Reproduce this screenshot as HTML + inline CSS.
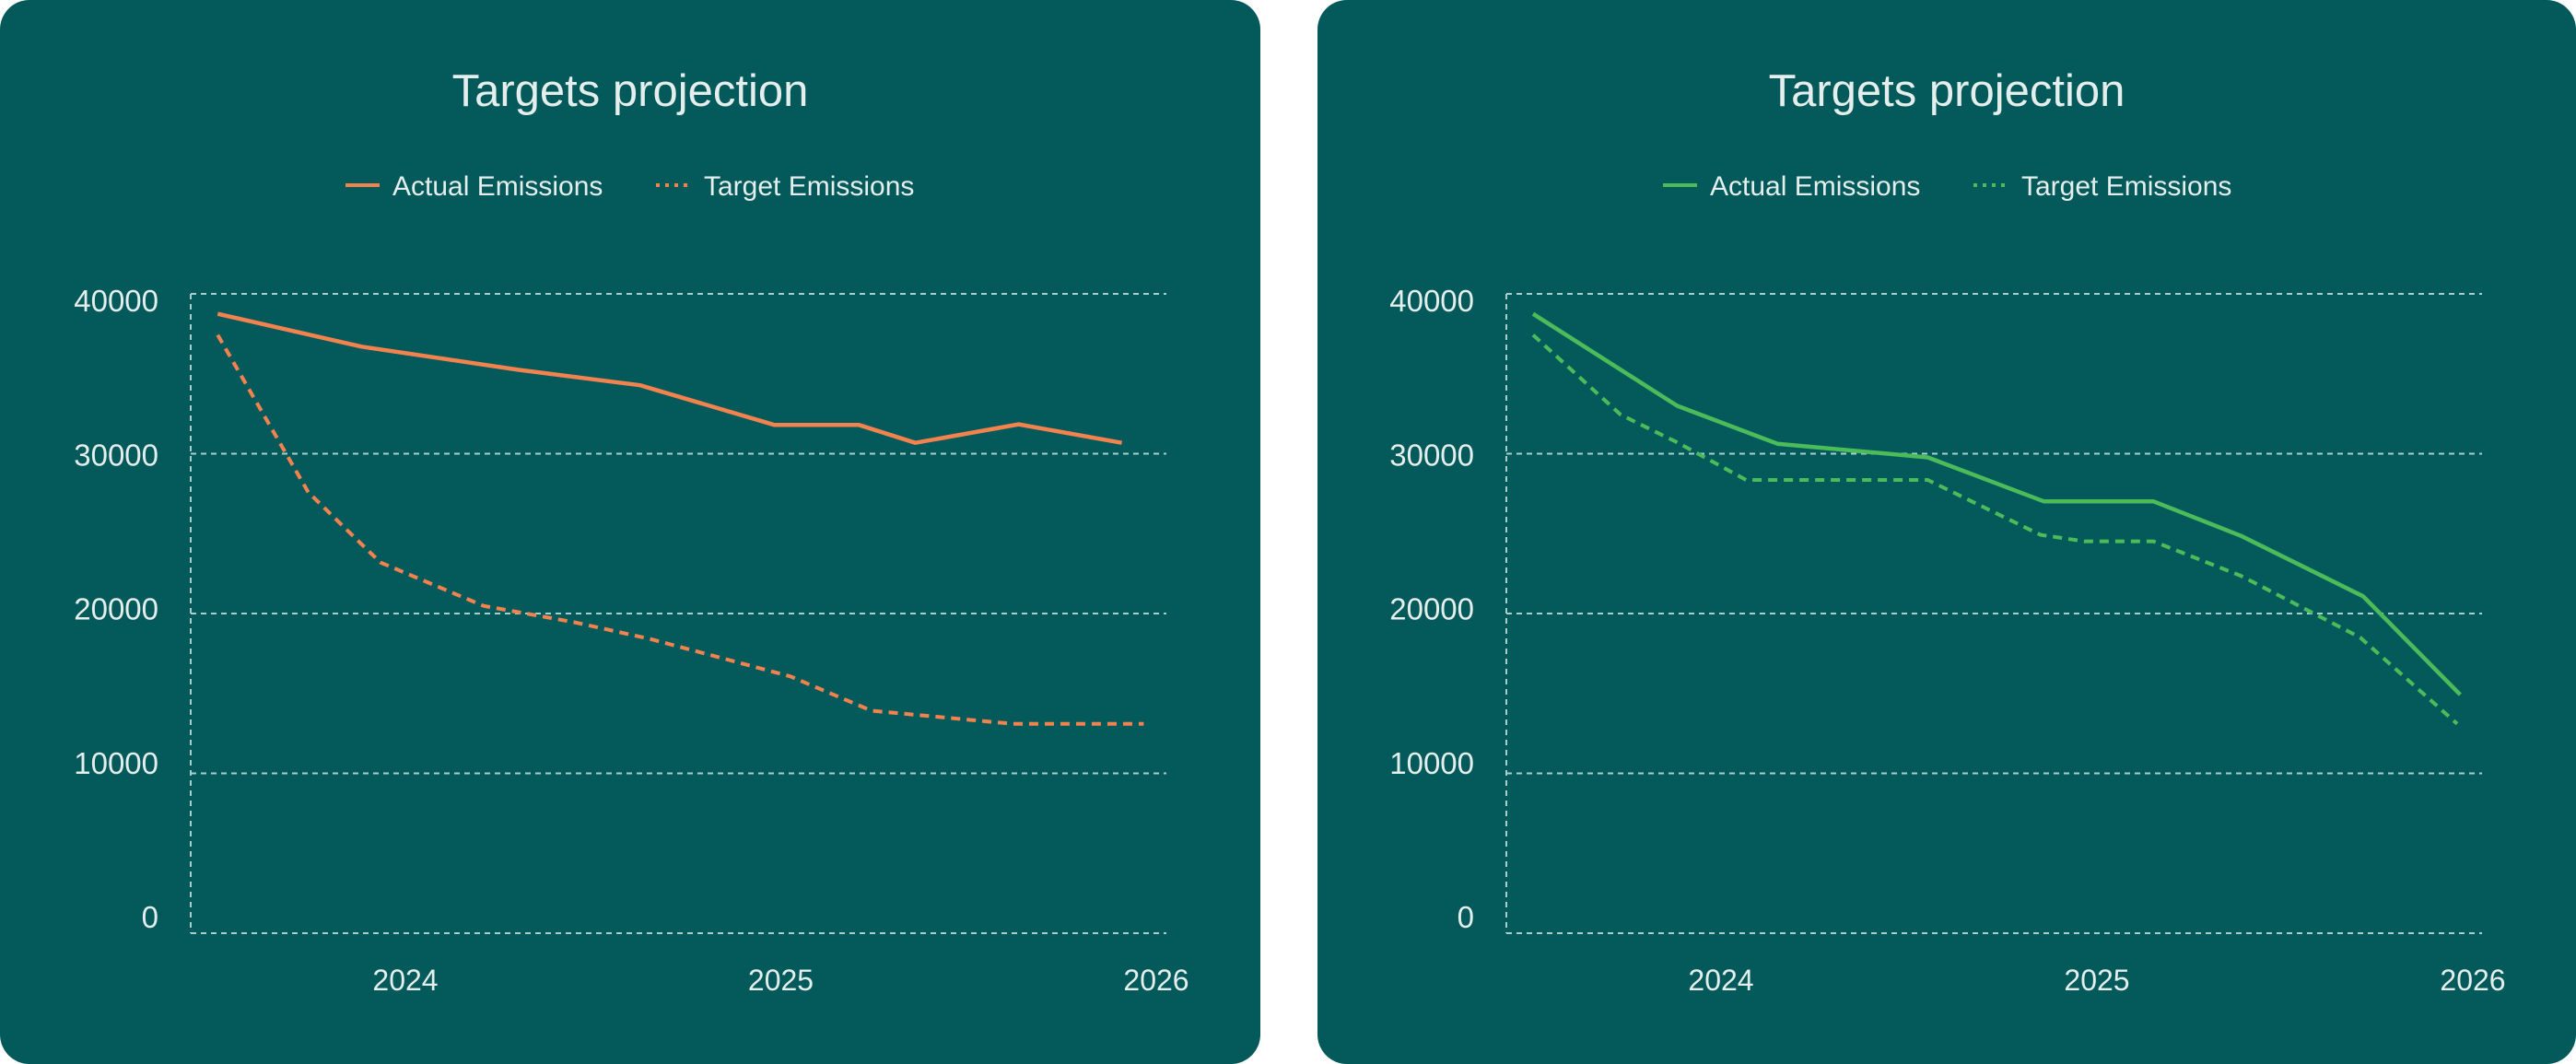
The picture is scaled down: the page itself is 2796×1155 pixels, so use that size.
<!DOCTYPE html>
<html><head><meta charset="utf-8"><style>
html,body{margin:0;padding:0;background:#fff;}
body{width:2796px;height:1155px;position:relative;overflow:hidden;font-family:"Liberation Sans",sans-serif;}
svg{position:absolute;left:0;top:0;}
</style></head><body>
<svg id="svg" width="2796" height="1155" viewBox="0 0 2796 1155"></svg>
<script>
// Left chart data (x = months since Jan 2023)
const leftActualMonths = [6, 10.6, 15.6, 19.5, 23.8, 26.5, 28.3, 31.6, 34.9];
const leftActualValues = [38750, 36700, 35250, 34280, 31800, 31800, 30680, 31840, 30680];
const leftTargetMonths = [6, 8.9, 11.2, 14.5, 17.4, 19.8, 24.3, 26.9, 31.4, 35.6];
const leftTargetValues = [37430, 27580, 23200, 20480, 19450, 18420, 16070, 13920, 13100, 13100];
// Right chart data
const rightActualMonths = [6, 10.6, 13.8, 18.6, 22.3, 25.8, 28.6, 32.5, 35.6];
const rightActualValues = [38750, 33000, 30620, 29770, 27020, 27020, 24860, 21080, 14920];
const rightTargetMonths = [6, 8.8, 10.6, 12.8, 18.6, 22.2, 23.6, 25.8, 28.6, 32.4, 35.5];
const rightTargetValues = [37430, 32430, 30710, 28360, 28360, 24920, 24520, 24520, 22360, 18510, 13100];
const yTicks = [40000, 30000, 20000, 10000, 0];
const xTickLabels = ["2024", "2025", "2026"];
const xTickMonths = [12, 24, 36];

const NS = "http://www.w3.org/2000/svg";
const svg = document.getElementById('svg');
function mk(tag, attrs, parent){const e=document.createElementNS(NS,tag);for(const k in attrs)e.setAttribute(k,attrs[k]);(parent||svg).appendChild(e);return e;}

function drawChart(cfg){
  const g = mk('g',{});
  
  
  const card = mk('rect',{x:cfg.cardX,y:0,width:cfg.cardW,height:1155,rx:32,fill:'#045a5a'},g);
  
  
  const cx = cfg.cardX + cfg.cardW/2;
  const title = mk('text',{x:cx,y:115,'text-anchor':'middle','font-size':49,fill:'#e4eeec'},g);
  title.textContent = 'Targets projection';
  
  
  // legend
  const lx = cfg.cardX + 375;
  const l1 = mk('g',{},g);
  
  
  mk('line',{x1:lx,y1:201,x2:lx+37,y2:201,stroke:cfg.color,'stroke-width':4},l1);
  const t1 = mk('text',{x:lx+51,y:212,'font-size':30,fill:'#e4eeec'},l1); t1.textContent='Actual Emissions';
  const l2 = mk('g',{},g);
  
  
  mk('line',{x1:lx+337,y1:201,x2:lx+375,y2:201,stroke:cfg.color,'stroke-width':4,'stroke-dasharray':'4 6'},l2);
  const t2 = mk('text',{x:lx+389,y:212,'font-size':30,fill:'#e4eeec'},l2); t2.textContent='Target Emissions';

  const y = v => 1013 - v/40000*694;
  const x = m => cfg.x2024 + (m-12)*cfg.perMonth;
  // grid
  yTicks.forEach((v,i)=>{
    const gl = mk('line',{x1:cfg.plotL,y1:y(v),x2:cfg.plotR,y2:y(v),stroke:'#a9cfcc','stroke-width':2,'stroke-dasharray':'6 5'},g);
    
    
    const tl = mk('text',{x:cfg.plotL-35,y:326+i*167.25+12,'text-anchor':'end','font-size':33,fill:'#e4eeec'},g);
    tl.textContent = String(v);
    
    
  });
  const ax = mk('line',{x1:cfg.plotL,y1:319,x2:cfg.plotL,y2:1013,stroke:'#a9cfcc','stroke-width':2,'stroke-dasharray':'6 5'},g);
  
  
  xTickLabels.forEach((lab,i)=>{
    const t = mk('text',{x:x(xTickMonths[i]),y:1075,'text-anchor':'middle','font-size':32,fill:'#e4eeec'},g);
    t.textContent = lab;
    
    
  });
  const pts = (ms,vs)=>ms.map((m,i)=>x(m).toFixed(1)+','+y(vs[i]).toFixed(1)).join(' ');
  const pa = mk('polyline',{points:pts(cfg.am,cfg.av),fill:'none',stroke:cfg.color,'stroke-width':4.5,'stroke-linejoin':'round'},g);
  
  
  const pt = mk('polyline',{points:pts(cfg.tm,cfg.tv),fill:'none',stroke:cfg.color,'stroke-width':4,'stroke-dasharray':'10 7','stroke-linejoin':'round'},g);
  
  
}
drawChart({name:'left-chart',cardX:0,cardW:1368,color:'#f2834f',plotL:207,plotR:1266,x2024:440,perMonth:407.5/12,
  am:leftActualMonths,av:leftActualValues,tm:leftTargetMonths,tv:leftTargetValues});
drawChart({name:'right-chart',cardX:1430,cardW:1366,color:'#4cbb5a',plotL:1635,plotR:2694,x2024:1868,perMonth:408/12,
  am:rightActualMonths,av:rightActualValues,tm:rightTargetMonths,tv:rightTargetValues});
</script>
</body></html>
